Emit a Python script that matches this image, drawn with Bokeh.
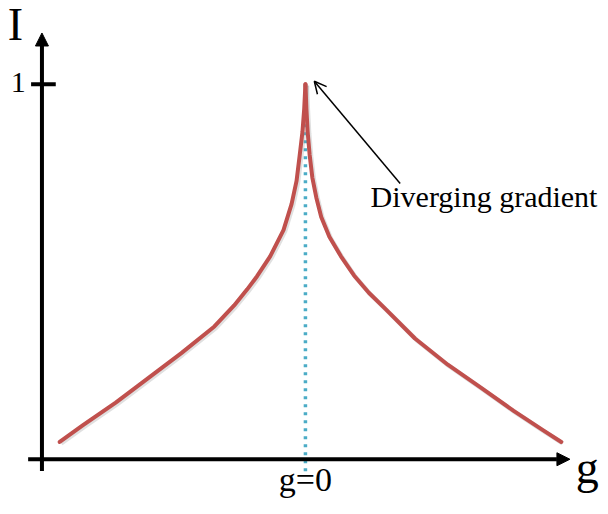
from bokeh.plotting import figure
from bokeh.models import Arrow, NormalHead, OpenHead, Label, Range1d
from bokeh.embed import file_html
from bokeh.resources import INLINE

# ---- data (g in arbitrary units, I normalised so that the peak is 1) ----
g_left = [-0.996, -0.903, -0.769, -0.636, -0.503, -0.369, -0.289, -0.236, -0.196, -0.143,
          -0.089, -0.056, -0.036, -0.023, -0.012, -0.005, 0.0]
I_left = [0.046, 0.090, 0.151, 0.217, 0.283, 0.354, 0.410, 0.453, 0.488, 0.541,
          0.611, 0.681, 0.742, 0.812, 0.873, 0.934, 1.0]
g_right = [0.0, 0.004, 0.009, 0.017, 0.028, 0.044, 0.064, 0.097, 0.144, 0.197,
           0.257, 0.324, 0.444, 0.577, 0.711, 0.844, 0.964, 1.037]
I_right = [1.0, 0.934, 0.873, 0.812, 0.751, 0.698, 0.646, 0.593, 0.541, 0.490,
           0.444, 0.401, 0.322, 0.252, 0.191, 0.129, 0.077, 0.046]
y_tick_values = [1]
y_tick_labels = ["1"]
x_marker_value = 0.0
x_marker_label = "g=0"
annotation_text = "Diverging gradient"

W, H = 600, 506
# reference picture pixel -> data mapping
X0_PX, XSCALE = 309.0, 250.0
Y0_PX, YSCALE = 466.0, 381.0
BASE_FIX = 0.38   # baseline correction (em) for the svg text placement


def gx(px):
    return (px - X0_PX) / XSCALE


def iy(py):
    return (Y0_PX - py) / YSCALE


def label(xpx, ypx, text, size, align="left"):
    return Label(x=gx(xpx), y=iy(ypx - BASE_FIX * size), text=text, text_align=align,
                 text_baseline="alphabetic", text_font="Liberation Serif",
                 text_font_size=f"{size}px", text_color="black")


p = figure(width=W, height=H, output_backend="svg", toolbar_location=None,
           x_range=Range1d(gx(0), gx(608)), y_range=Range1d(iy(514), iy(0)),
           x_axis_location=None, y_axis_location=None, min_border=0)
p.xgrid.visible = False
p.ygrid.visible = False
p.outline_line_color = None
p.background_fill_color = "white"
p.border_fill_color = "white"

# dotted marker line at g = 0
p.line([x_marker_value, x_marker_value], [1.0, iy(481)], line_color="#4BACC6",
       line_width=3.5, line_dash="3 5")

# curve (with faint shadow)
dx, dy = 1.5 / XSCALE, 1.5 / YSCALE
for gs, Is in ((g_left, I_left), (g_right, I_right)):
    p.line([g + dx for g in gs], [v - dy for v in Is],
           line_color="#999999", line_alpha=0.3, line_width=4.5, line_join="round")
for gs, Is in ((g_left, I_left), (g_right, I_right)):
    p.line(gs, Is, line_color="#C0504D", line_width=4, line_join="round", line_cap="round")

# axes drawn as arrows
p.add_layout(Arrow(end=NormalHead(size=13, fill_color="black", line_color="black"),
                   x_start=gx(42), y_start=iy(478), x_end=gx(42), y_end=iy(33),
                   line_width=4, line_color="black"))
p.add_layout(Arrow(end=NormalHead(size=13, fill_color="black", line_color="black"),
                   x_start=gx(28), y_start=0, x_end=gx(577), y_end=0,
                   line_width=4, line_color="black"))

# y tick
for v, lab in zip(y_tick_values, y_tick_labels):
    p.line([gx(31), gx(56)], [v, v], line_color="black", line_width=4)
    p.add_layout(label(18, Y0_PX - v * YSCALE + 10, lab, 30, "center"))

# axis names
p.add_layout(label(15, 42, "I", 46, "center"))
p.add_layout(label(583, 492, "g", 46))

# g=0 label
p.add_layout(label(X0_PX + x_marker_value * XSCALE, 500, x_marker_label, 34, "center"))

# annotation
p.add_layout(Arrow(end=OpenHead(size=12, line_width=1.5, line_color="black"),
                   x_start=gx(405), y_start=iy(186), x_end=gx(318), y_end=iy(82),
                   line_width=1.5, line_color="black"))
p.add_layout(label(375, 211, annotation_text, 30))

open("out.html", "w").write(file_html(p, INLINE))
